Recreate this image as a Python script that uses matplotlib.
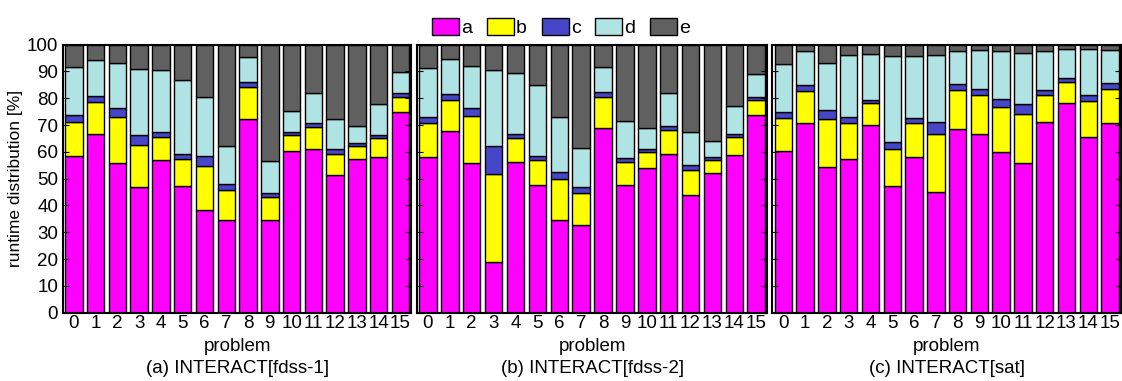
import numpy as np
import matplotlib
matplotlib.use("Agg")
import matplotlib.pyplot as plt

plt.rcParams['font.family'] = ['Liberation Sans', 'DejaVu Sans']

problems = list(range(16))
series = ["a", "b", "c", "d", "e"]
colors = ["#ff00ff", "#ffff00", "#4646c8", "#b0e4e4", "#606060"]
titles = ["(a) INTERACT[fdss-1]", "(b) INTERACT[fdss-2]", "(c) INTERACT[sat]"]

# (a) fdss-1
fdss1_a = [58.5, 66.8, 55.7, 46.9, 56.8, 47.4, 38.2, 34.5, 72.3, 34.7, 60.2, 61.1, 51.5, 57.3, 58.1, 74.9]
fdss1_b = [12.7, 11.7, 17.3, 15.8, 8.7, 9.8, 16.7, 11.4, 11.8, 8.5, 6.0, 8.1, 7.8, 5.0, 7.2, 5.7]
fdss1_c = [2.5, 2.3, 3.2, 3.6, 1.9, 1.9, 3.4, 2.2, 1.8, 1.6, 1.1, 1.4, 1.8, 1.1, 1.1, 1.2]
fdss1_d = [18.0, 13.6, 16.8, 24.5, 23.0, 27.6, 22.3, 14.0, 9.6, 11.9, 8.1, 11.5, 11.3, 6.3, 11.6, 8.1]
fdss1_e = [8.3, 5.6, 7.0, 9.2, 9.6, 13.3, 19.4, 37.9, 4.5, 43.3, 24.6, 17.9, 27.6, 30.3, 22.0, 10.1]

# (b) fdss-2
fdss2_a = [58.1, 67.7, 55.7, 18.8, 56.1, 47.8, 34.7, 32.6, 68.9, 47.5, 54.0, 59.2, 44.0, 52.0, 58.8, 73.6]
fdss2_b = [12.5, 11.5, 17.6, 32.8, 8.9, 9.0, 15.1, 11.9, 11.6, 8.6, 5.8, 9.0, 9.4, 5.1, 6.9, 5.8]
fdss2_c = [2.3, 2.3, 3.2, 10.7, 1.7, 1.8, 2.8, 2.4, 1.7, 1.5, 1.3, 1.6, 1.7, 1.0, 1.1, 1.1]
fdss2_d = [18.3, 13.3, 15.5, 28.1, 22.6, 26.4, 20.5, 14.5, 9.3, 13.8, 7.8, 12.2, 12.3, 6.1, 10.3, 8.4]
fdss2_e = [8.8, 5.2, 8.0, 9.6, 10.7, 15.0, 26.9, 38.6, 8.5, 28.6, 31.1, 18.0, 32.6, 35.8, 22.9, 11.1]

# (c) sat
sat_a = [60.2, 70.6, 54.4, 57.2, 70.0, 47.1, 58.2, 45.1, 68.4, 66.5, 60.1, 55.8, 71.0, 78.2, 65.4, 70.6]
sat_b = [12.6, 12.1, 17.7, 13.4, 8.1, 13.8, 12.4, 21.6, 14.6, 14.6, 16.6, 18.2, 10.3, 7.9, 13.6, 12.9]
sat_c = [2.2, 2.4, 3.5, 2.5, 1.3, 2.8, 2.0, 4.6, 2.3, 2.5, 3.2, 3.7, 1.9, 1.5, 2.2, 2.1]
sat_d = [17.7, 12.5, 17.7, 23.0, 17.1, 32.2, 23.3, 25.0, 12.3, 14.3, 17.7, 19.3, 14.3, 10.8, 17.1, 12.3]
sat_e = [7.3, 2.4, 6.7, 3.9, 3.5, 4.1, 4.1, 3.7, 2.4, 2.1, 2.4, 3.0, 2.5, 1.6, 1.7, 2.1]

panels = [
    [fdss1_a, fdss1_b, fdss1_c, fdss1_d, fdss1_e],
    [fdss2_a, fdss2_b, fdss2_c, fdss2_d, fdss2_e],
    [sat_a, sat_b, sat_c, sat_d, sat_e],
]

fig = plt.figure(figsize=(11.22, 3.81), dpi=100)
lefts = [0.0561, 0.3717, 0.6885]
widths = [0.3105, 0.3120, 0.3105]

handles = None
for k, data in enumerate(panels):
    ax = fig.add_axes([lefts[k], 0.1793, widths[k], 0.7034])
    bottom = np.zeros(len(problems))
    hs = []
    for vals, col, name in zip(data, colors, series):
        h = ax.bar(problems, vals, 0.8, bottom=bottom, color=col,
                   edgecolor="black", linewidth=1.0, label=name)
        bottom += np.array(vals)
        hs.append(h)
    if handles is None:
        handles = hs
    ax.set_xlim(-0.5, 15.5)
    ax.set_ylim(0, 100)
    ax.set_yticks(range(0, 101, 10))
    ax.set_xticks(problems)
    ax.set_xticklabels([str(p) for p in problems], fontsize=13.5)
    ax.tick_params(axis="x", length=0, pad=2)
    ax.tick_params(axis="y", direction="in", left=True, right=True, length=4, labelsize=13.5)
    if k > 0:
        ax.set_yticklabels([])
    else:
        ax.set_ylabel("runtime distribution [%]", fontsize=12.5, labelpad=3)
    for s in ax.spines.values():
        s.set_linewidth(1.5)
    ax.set_xlabel("problem\n" + titles[k], fontsize=13.5, labelpad=4, linespacing=1.35)

fig.legend(handles, series, loc="upper center", bbox_to_anchor=(0.5, 1.0), ncol=5,
           frameon=False, fontsize=14, handlelength=1.4, handleheight=1.0,
           handletextpad=0.1, columnspacing=0.75)

fig.savefig("out.png", dpi=100)
